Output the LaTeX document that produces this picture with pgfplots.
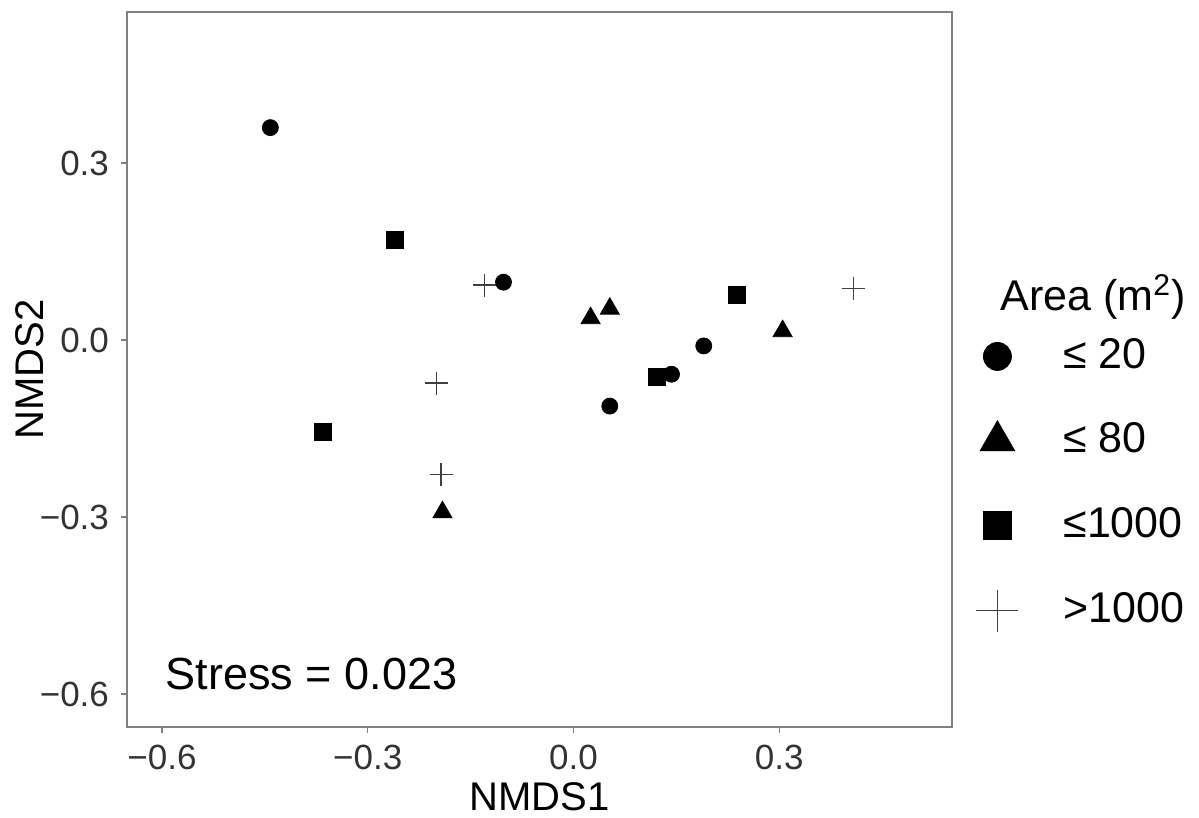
\documentclass[border=0pt]{standalone}
\usepackage{fontspec}
\setmainfont{Liberation Sans}
\usepackage{pgfplots}
\pgfplotsset{compat=1.18}
\usetikzlibrary{calc}

\begin{document}
\begin{tikzpicture}
\begin{axis}[
  scale only axis, width=412.5pt, height=357.5pt,
  xmin=-0.651, xmax=0.552, ymin=-0.656, ymax=0.556,
  clip=false,
  axis line style={black!50, line width=0.6pt},
  xtick={-0.6,-0.3,0,0.3}, ytick={-0.6,-0.3,0,0.3},
  xticklabels={−0.6,−0.3,0.0,0.3}, yticklabels={−0.6,−0.3,0.0,0.3},
  tick align=outside, tick pos=left, major tick length=3pt,
  tick style={black!50, line width=0.6pt},
  ticklabel style={font=\fontsize{17.5}{21}\selectfont, text=black!80},
  xticklabel style={yshift=-2.5pt},
  yticklabel style={xshift=-2.5pt},
  xlabel={NMDS1}, ylabel={NMDS2},
  label style={font=\fontsize{20}{24}\selectfont},
  xlabel style={at={(axis description cs:0.5,-0.0979)}, anchor=center},
  ylabel style={at={(axis description cs:-0.1176,0.5)}, anchor=center},
  legend style={at={(1.0182,0.5524)}, anchor=north west, draw=none, fill=none,
    font=\fontsize{21.5}{25}\selectfont, row sep=22.2pt, column sep=0pt,
    nodes={inner sep=0pt, text height=16pt, text depth=4pt}},
  legend cell align=left,
]
% <= 20
\addplot[only marks, mark=*, mark size=4pt, black,
  legend image code/.code={\path[draw=none] (0pt,0pt) -- (45pt,0pt);
    \draw[mark=*, mark size=7pt, black] plot coordinates {(12pt,0pt)};}]
  coordinates {(-0.442,0.360) (-0.102,0.098) (0.190,-0.010) (0.143,-0.058) (0.053,-0.112)};
\addlegendentry{≤ 20}
% <= 80
\addplot[only marks, mark=triangle*, mark size=5.5pt, black,
  legend image code/.code={\path[draw=none] (0pt,0pt) -- (45pt,0pt);
    \draw[mark=triangle*, mark size=10pt, black] plot coordinates {(12pt,0pt)};}]
  coordinates {(0.025,0.037) (0.053,0.053) (0.305,0.015) (-0.191,-0.292)};
\addlegendentry{≤ 80}
% <= 1000
\addplot[only marks, mark=square*, mark size=4.25pt, black,
  legend image code/.code={\path[draw=none] (0pt,0pt) -- (45pt,0pt);
    \draw[mark=square*, mark size=7pt, black] plot coordinates {(12pt,0pt)};}]
  coordinates {(-0.260,0.170) (0.239,0.076) (0.121,-0.063) (-0.365,-0.156)};
\addlegendentry{≤1000}
% > 1000
\addplot[only marks, mark=+, mark size=5.75pt, black!75, line width=0.7pt,
  legend image code/.code={\path[draw=none] (0pt,0pt) -- (45pt,0pt);
    \draw[mark=+, mark size=10.5pt, black!75, line width=0.8pt] plot coordinates {(12pt,0pt)};}]
  coordinates {(-0.130,0.093) (0.408,0.087) (-0.200,-0.073) (-0.193,-0.228)};
\addlegendentry{>1000}

\node[anchor=west, inner sep=0pt, font=\fontsize{22.5}{27}\selectfont]
  at (axis cs:-0.595,-0.567) {Stress = 0.023};
\node[anchor=west, inner sep=0pt, font=\fontsize{21.5}{25}\selectfont]
  at ([xshift=24pt,yshift=-142.5pt]rel axis cs:1,1) {Area (m\textsuperscript{2})};
\end{axis}
\path[use as bounding box] ($(current axis.south west)+(-63.5pt,-44pt)$) rectangle ($(current axis.north east)+(123.5pt,6pt)$);
\end{tikzpicture}
\end{document}
